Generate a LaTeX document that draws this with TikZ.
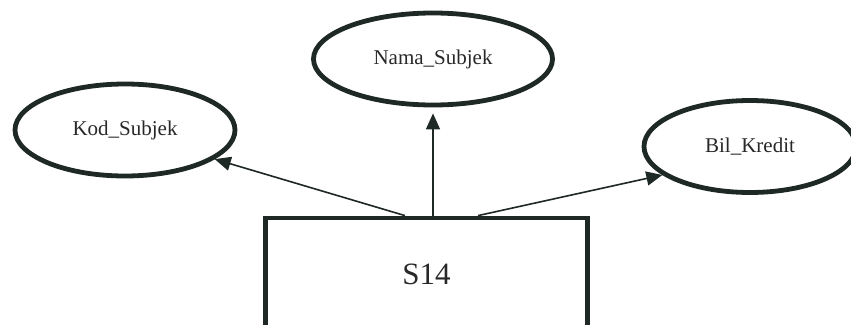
\documentclass[tikz,border=0pt]{standalone}
\usepackage{fontspec}
\setmainfont{Liberation Serif}
\usetikzlibrary{shapes.geometric,arrows.meta}
\definecolor{inkline}{RGB}{30,40,36}
\definecolor{inktext}{RGB}{40,40,40}
\tikzset{
    attr/.style={ellipse, draw=inkline, line width=4.8pt, inner sep=0pt, text=inktext, font=\fontsize{21}{25}\selectfont},
    entity/.style={rectangle, draw=inkline, line width=4.8pt, minimum width=322pt, minimum height=112pt, text=inktext, font=\fontsize{31}{37}\selectfont},
    link/.style={draw=inkline, line width=1.6pt, -{Triangle[length=16pt,width=14pt]}}
}
\begin{document}
\begin{tikzpicture}[x=1pt, y=-1pt]
    \clip (0, 0) rectangle (851, 324);
    \fill[white] (0, 0) rectangle (851, 324);

    \node[attr, minimum width=220pt, minimum height=92pt] (kod) at (125, 130) {Kod\_Subjek};
    \node[attr, minimum width=239pt, minimum height=92pt] (nama) at (433, 59) {Nama\_Subjek};
    \node[attr, minimum width=212pt, minimum height=92pt] (bil) at (750, 146.5) {Bil\_Kredit};

    \node[entity] (s14) at (426.5, 274) {S14};

    \draw[link] ([xshift=-21.5pt]s14.north) to (kod.-18);
    \draw[link, shorten >=6pt] ([xshift=6.5pt]s14.north) to (nama.south -| {(433, 0)});
    \draw[link] ([xshift=51.5pt]s14.north) to (bil.-162);
\end{tikzpicture}
\end{document}
